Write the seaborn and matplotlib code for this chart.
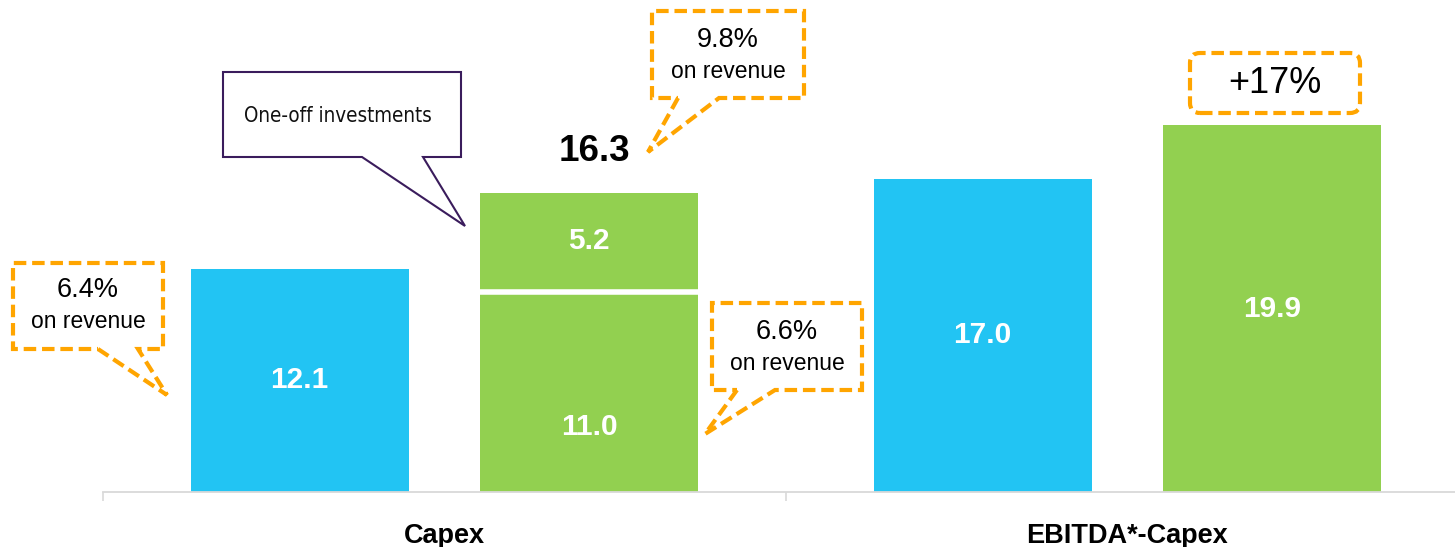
import numpy as np
import pandas as pd
import seaborn as sns
import matplotlib.pyplot as plt
from matplotlib.patches import Polygon, FancyBboxPatch

# ---- data -------------------------------------------------------------
categories = ["Capex", "EBITDA*-Capex"]
periods = ["Previous year", "Current year"]
previous_values = [12.1, 17.0]
current_base_values = [11.0, 19.9]
capex_one_off = 5.2
capex_total = 16.3
revenue_share_prev = "6.4%"
revenue_share_base = "6.6%"
revenue_share_total = "9.8%"
growth_label = "+17%"
one_off_label = "One-off investments"

BLUE = "#22C4F3"
GREEN = "#92D050"
ORANGE = "#FFA500"
PURPLE = "#3A1C5C"
AXIS_GREY = "#D9D9D9"

W, H = 1455, 547
DPI = 100

sns.set_theme(style="white")
plt.rcParams["font.family"] = ["Liberation Sans", "DejaVu Sans"]

df = pd.DataFrame({
    "category": categories * 2,
    "period": [periods[0]] * 2 + [periods[1]] * 2,
    "value": previous_values + current_base_values,
})

fig = plt.figure(figsize=(W / DPI, H / DPI), dpi=DPI)
ax = fig.add_axes([103 / W, 55 / H, 1366 / W, 492 / H])

sns.barplot(data=df, x="category", y="value", hue="period",
            hue_order=periods, order=categories,
            palette=[BLUE, GREEN], saturation=1, width=0.848, gap=0.248,
            errorbar=None, legend=False, linewidth=0, ax=ax)

prev_bars = list(ax.containers[0])
cur_bars = list(ax.containers[1])

# one-off segment stacked on the current Capex bar
cb = cur_bars[0]
cx, cw = cb.get_x(), cb.get_width()
base = current_base_values[0]
ax.bar(cx, capex_one_off, bottom=base, width=cw, align="edge",
       color=GREEN, linewidth=0)
ax.plot([cx, cx + cw], [base - 0.15, base - 0.15], color="white", lw=4,
        solid_capstyle="butt", zorder=3)

val_kw = dict(color="white", fontsize=21.5, fontweight="bold",
              ha="center", va="center", zorder=4)
for bar, v in zip(prev_bars, previous_values):
    ax.text(bar.get_x() + bar.get_width() / 2, v / 2, f"{v:.1f}", **val_kw)
ax.text(cx + cw / 2, base * 0.32, f"{base:.1f}", **val_kw)
ax.text(cx + cw / 2, base + capex_one_off / 2, f"{capex_one_off:.1f}", **val_kw)
eb = cur_bars[1]
ax.text(eb.get_x() + eb.get_width() / 2, current_base_values[1] / 2,
        f"{current_base_values[1]:.1f}", **val_kw)

ax.text(cx + cw / 2 + 0.008, capex_total + 2.14, f"{capex_total:.1f}",
        color="black", fontsize=26.5, fontweight="bold", ha="center", va="center")

# ---- axes styling -------------------------------------------------------
ax.set_xlim(-0.5, 1.5)
ax.set_ylim(0, 492 / 18.44)
ax.set_yticks([])
ax.set_xlabel("")
ax.set_ylabel("")
for side in ["left", "right", "top"]:
    ax.spines[side].set_visible(False)
ax.spines["bottom"].set_color(AXIS_GREY)
ax.spines["bottom"].set_linewidth(1.3)
ax.set_xticks([-0.5, 0.5, 1.5], minor=True)
ax.tick_params(axis="x", which="minor", length=6.5, width=1.2,
               color=AXIS_GREY, bottom=True)
ax.tick_params(axis="x", which="major", length=0, pad=22.5, labelsize=19.5)
for t in ax.get_xticklabels():
    t.set_fontweight("bold")
    t.set_color("black")


# ---- callouts (pixel layout, origin top-left) ---------------------------
def P(x, y):
    return (x / DPI, (H - y) / DPI)


def pointed_box(x0, y0, x1, y1, b0, b1, tip, color, lw, ls):
    pts = [P(b0, y1), P(*tip), P(b1, y1), P(x1, y1), P(x1, y0),
           P(x0, y0), P(x0, y1)]
    poly = Polygon(pts, closed=True, facecolor="white", edgecolor=color,
                   lw=lw, linestyle=ls, transform=fig.dpi_scale_trans,
                   joinstyle="miter", zorder=5)
    fig.add_artist(poly)


def ftext(x, y, s, **kw):
    fig.text(*P(x, y), s, transform=fig.dpi_scale_trans,
             ha="center", va="center", zorder=6, **kw)


dash = (0, (3, 1.4))
pointed_box(13, 263, 163, 349, 98, 138, (167, 395), ORANGE, 3, dash)
ftext(88, 290, revenue_share_prev, fontsize=19.5, color="black")
ftext(88, 322, "on revenue", fontsize=16.5, color="black")

pointed_box(652, 11, 804, 98, 678, 719, (648, 152), ORANGE, 3, dash)
ftext(728, 40, revenue_share_total, fontsize=19.5, color="black")
ftext(728, 72, "on revenue", fontsize=16.5, color="black")

pointed_box(712, 303, 862, 390, 737, 775, (705, 434), ORANGE, 3, dash)
ftext(787, 332, revenue_share_base, fontsize=19.5, color="black")
ftext(787, 363, "on revenue", fontsize=16.5, color="black")

pointed_box(223, 72, 461, 157, 362, 423, (465, 226), PURPLE, 1.5, "solid")
ftext(338, 116, one_off_label, fontsize=14.8, color="#111111",
      family="DejaVu Sans", fontstretch="condensed")

gx0, gy0 = P(1190, 113)
gbox = FancyBboxPatch((gx0, gy0), 170 / DPI, 60 / DPI,
                      boxstyle="round,pad=0,rounding_size=0.1",
                      facecolor="white", edgecolor=ORANGE, lw=3,
                      linestyle=dash, transform=fig.dpi_scale_trans, zorder=5)
fig.add_artist(gbox)
ftext(1275, 83, growth_label, fontsize=26, color="black")

fig.savefig("out.png", dpi=DPI, facecolor="white")
